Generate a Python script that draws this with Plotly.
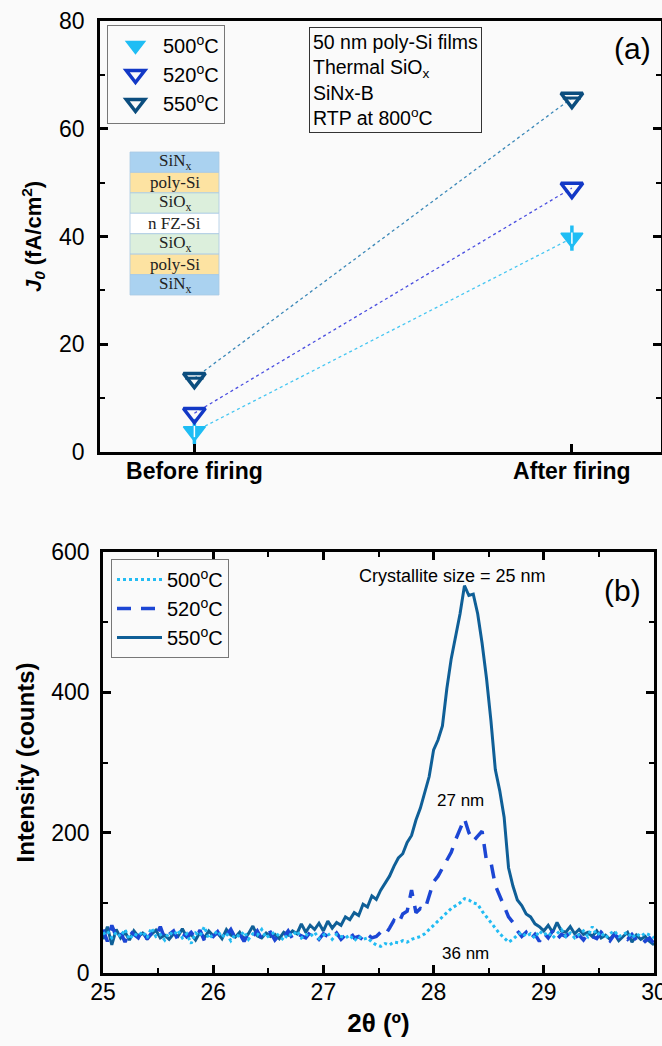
import numpy as np
import plotly.graph_objects as go

W, H = 662, 1046

# ---------------- Panel (a) data ----------------
stages = ["Before firing", "After firing"]
j0_500 = [3.8, 39.7]
j0_520 = [7.2, 49.0]
j0_550 = [13.7, 65.7]
temps = ["500<sup>o</sup>C", "520<sup>o</sup>C", "550<sup>o</sup>C"]

# ---------------- Panel (b) data ----------------
two_theta = np.round(25.0 + 0.04 * np.arange(126), 2)  # 25.00 ... 30.00 sampling grid

int_500 = [55, 60, 50, 58, 52, 62, 48, 56, 53, 59, 50, 64, 52, 55, 47, 58, 54, 61, 50, 56,
           42, 57, 53, 66, 49, 55, 60, 51, 57, 46, 55, 52, 59, 48, 56, 54, 62, 50, 55, 58,
           52, 47, 56, 53, 60, 50, 55, 52, 58, 49, 54, 57, 48, 55, 52, 50, 54, 46, 52, 48,
           50, 44, 40, 38, 42, 40, 44, 43, 46, 44, 48, 50, 52, 56, 62, 68, 74, 80, 86, 92,
           96, 100, 106, 104, 100, 98, 88, 80, 72, 64, 56, 50, 44, 48, 54, 58, 52, 56, 50, 60,
           54, 58, 50, 56, 62, 52, 57, 50, 55, 60, 52, 66, 54, 58, 50, 56, 60, 52, 55, 58,
           50, 56, 52, 57, 54, 50]

int_520 = [62, 45, 68, 52, 58, 44, 60, 55, 50, 62, 48, 57, 53, 66, 49, 55, 60, 47, 56, 52,
           58, 50, 61, 46, 55, 52, 59, 48, 54, 62, 50, 56, 45, 57, 52, 60, 49, 55, 58, 47,
           54, 51, 60, 49, 56, 53, 50, 58, 55, 48, 56, 52, 50, 57, 48, 54, 59, 50, 52, 47,
           55, 50, 52, 58, 54, 64, 75, 70, 84, 88, 118, 86, 92, 90, 112, 130, 138, 150, 162, 172,
           190, 205, 220, 200, 188, 195, 202, 160, 158, 125, 110, 96, 80, 72, 60, 52, 58, 48, 55, 45,
           57, 50, 60, 48, 55, 52, 58, 50, 54, 47, 56, 52, 49, 58, 52, 46, 55, 50, 53, 48,
           55, 47, 52, 45, 50, 42]

int_550 = [48, 66, 40, 62, 50, 58, 47, 60, 52, 57, 49, 55, 61, 50, 54, 48, 56, 52, 63, 51,
           55, 47, 58, 50, 60, 53, 57, 49, 62, 54, 51, 58, 48, 56, 67, 53, 50, 57, 52, 55,
           49, 58, 54, 60, 56, 70, 58, 68, 62, 71, 60, 74, 64, 72, 68, 80, 76, 86, 82, 98,
           94, 110, 105, 118, 128, 138, 152, 164, 170, 186, 196, 218, 235, 258, 280, 318, 332, 352, 405, 448,
           478, 512, 552, 538, 540, 512, 470, 420, 360, 290, 260, 222, 150, 124, 104, 96, 84, 80, 70, 66,
           60, 68, 58, 72, 60, 58, 66, 56, 62, 55, 58, 52, 60, 50, 54, 48, 56, 46, 52, 58,
           44, 54, 48, 52, 45, 40]

# ---------------- styling ----------------
C500, C520, C550 = "#1fbdf4", "#1238c6", "#0b4d7e"
L500, L520, L550 = "#45c6f2", "#4a4ee0", "#3b88b8"
B500, B520, B550 = "#22bcf3", "#1c46d4", "#0f5f97"
FONT = "Arial, Liberation Sans, sans-serif"
SERIF = "Times New Roman, Liberation Serif, serif"


def px(x):
    return x / W


def py(y):
    return 1 - y / H


fig = go.Figure()

# ---- panel (a): connecting lines ----
for vals, col in [(j0_500, L500), (j0_520, L520), (j0_550, L550)]:
    fig.add_trace(go.Scatter(x=stages, y=vals, mode="lines", xaxis="x", yaxis="y",
                             line=dict(color=col, width=1.3, dash="dot"),
                             showlegend=False, hoverinfo="skip"))

# 500: arrow-like filled down triangle
fig.add_trace(go.Scatter(x=stages, y=j0_500, mode="markers", xaxis="x", yaxis="y",
                         marker=dict(symbol="line-ns", size=18, color=C500,
                                     line=dict(color=C500, width=3.5)),
                         showlegend=False, hoverinfo="skip"))
fig.add_trace(go.Scatter(x=stages, y=j0_500, mode="markers", xaxis="x", yaxis="y",
                         name=temps[0], legend="legend", legendrank=1,
                         marker=dict(symbol="triangle-down", size=19, color=C500,
                                     line=dict(color=C500, width=1.5))))
fig.add_trace(go.Scatter(x=stages, y=j0_500, mode="markers", xaxis="x", yaxis="y",
                         marker=dict(symbol="line-ns", size=8, color="white",
                                     line=dict(color="white", width=1.5)),
                         showlegend=False, hoverinfo="skip"))
# 520: open down triangle
fig.add_trace(go.Scatter(x=stages, y=j0_520, mode="markers", xaxis="x", yaxis="y",
                         name=temps[1], legend="legend", legendrank=2,
                         marker=dict(symbol="triangle-down-open", size=19, color=C520,
                                     line=dict(color=C520, width=3.5))))
# 550: open down triangle with bar
fig.add_trace(go.Scatter(x=stages, y=j0_550, mode="markers", xaxis="x", yaxis="y",
                         name=temps[2], legend="legend", legendrank=3,
                         marker=dict(symbol="triangle-down-open", size=19, color=C550,
                                     line=dict(color=C550, width=3.5))))
fig.add_trace(go.Scatter(x=stages, y=j0_550, mode="markers", xaxis="x", yaxis="y",
                         marker=dict(symbol="line-ew", size=13, color=C550,
                                     line=dict(color=C550, width=3)),
                         showlegend=False, hoverinfo="skip"))

# ---- panel (b): XRD curves ----
fig.add_trace(go.Scatter(x=two_theta, y=int_550, mode="lines", xaxis="x2", yaxis="y2",
                         name=temps[2], legend="legend2", legendrank=3,
                         line=dict(color=B550, width=3)))
fig.add_trace(go.Scatter(x=two_theta, y=int_520, mode="lines", xaxis="x2", yaxis="y2",
                         name=temps[1], legend="legend2", legendrank=2,
                         line=dict(color=B520, width=3.5, dash="14px,10px")))
fig.add_trace(go.Scatter(x=two_theta, y=int_500, mode="lines", xaxis="x2", yaxis="y2",
                         name=temps[0], legend="legend2", legendrank=1,
                         line=dict(color=B500, width=3, dash="dot")))

axis_common = dict(showline=True, linecolor="black", linewidth=2.5, showgrid=False,
                   zeroline=False, ticks="inside", tickcolor="black", tickwidth=2.5,
                   ticklen=8, automargin=False, ticklabeloverflow="allow",
                   tickfont=dict(family=FONT, size=23, color="black"))

shapes = []
annotations = []

# ---- layer-stack inset in panel (a) ----
layers = ["SiN<sub>x</sub>", "poly-Si", "SiO<sub>x</sub>", "n FZ-Si",
          "SiO<sub>x</sub>", "poly-Si", "SiN<sub>x</sub>"]
layer_cols = ["#aad2f0", "#fde3a2", "#dcefdc", "#ffffff", "#dcefdc", "#fde3a2", "#aad2f0"]
top, bot, lx0, lx1 = 152, 295, 130, 219
hstep = (bot - top) / len(layers)
for i, (lab, col) in enumerate(zip(layers, layer_cols)):
    y0 = top + i * hstep
    shapes.append(dict(type="rect", xref="paper", yref="paper",
                       x0=px(lx0), x1=px(lx1), y0=py(y0), y1=py(y0 + hstep),
                       fillcolor=col, line=dict(color="#a9c9e3", width=0.8), layer="below"))
    annotations.append(dict(xref="paper", yref="paper", x=px((lx0 + lx1) / 2),
                            y=py(y0 + hstep / 2), text=lab, showarrow=False,
                            font=dict(family=SERIF, size=17, color="#222222"),
                            xanchor="center", yanchor="middle"))

annotations += [
    dict(xref="paper", yref="paper", x=px(309), y=py(27), xanchor="left", yanchor="top",
         align="left", showarrow=False,
         text="50 nm poly-Si films<br>Thermal SiO<sub>x</sub><br>SiNx-B<br>RTP at 800<sup>o</sup>C",
         font=dict(family=FONT, size=19.5, color="black"),
         bordercolor="#333333", borderwidth=1, borderpad=3, bgcolor="rgba(0,0,0,0)"),
    dict(xref="paper", yref="paper", x=px(632), y=py(48), text="(a)", showarrow=False,
         font=dict(family=FONT, size=30, color="black"), xanchor="center", yanchor="middle"),
    dict(xref="paper", yref="paper", x=px(622), y=py(590), text="(b)", showarrow=False,
         font=dict(family=FONT, size=30, color="black"), xanchor="center", yanchor="middle"),
    dict(xref="x2", yref="y2", x=28.17, y=566, text="Crystallite size = 25 nm", showarrow=False,
         font=dict(family=FONT, size=18, color="black"), xanchor="center", yanchor="middle"),
    dict(xref="x2", yref="y2", x=28.24, y=246, text="27 nm", showarrow=False,
         font=dict(family=FONT, size=17, color="black"), xanchor="center", yanchor="middle"),
    dict(xref="x2", yref="y2", x=28.29, y=28, text="36 nm", showarrow=False,
         font=dict(family=FONT, size=17, color="black"), xanchor="center", yanchor="middle"),
]

legend_common = dict(font=dict(family=FONT, size=20, color="black"), bgcolor="rgba(0,0,0,0)",
                     bordercolor="#777777", borderwidth=1, xanchor="left", yanchor="top",
                     traceorder="normal", itemwidth=45)

fig.update_layout(
    width=W, height=H,
    margin=dict(l=0, r=0, t=0, b=0, autoexpand=False),
    paper_bgcolor="#fafafa", plot_bgcolor="#fafafa",
    font=dict(family=FONT, color="black"),
    xaxis=dict(axis_common, domain=[px(100), px(661)], anchor="y", type="category",
               range=[-0.25, 1.236], mirror=True,
               tickfont=dict(family=FONT, size=23, color="black", weight="bold"),
               ticklabelstandoff=-3),
    yaxis=dict(axis_common, domain=[py(452), py(21)], anchor="x", range=[0, 80], dtick=20,
               mirror="ticks", ticklabelstandoff=8,
               minor=dict(ticks="inside", dtick=10, ticklen=5, tickwidth=2, tickcolor="black"),
               title=dict(text="<i>J<sub>0</sub></i> (fA/cm<sup>2</sup>)",
                          font=dict(family=FONT, size=22, color="black", weight="bold"),
                          standoff=12)),
    xaxis2=dict(axis_common, domain=[px(103), px(654)], anchor="y2", range=[25, 30], dtick=1,
                mirror="ticks", ticklabelstandoff=-3,
                minor=dict(ticks="inside", dtick=0.5, ticklen=5, tickwidth=2, tickcolor="black"),
                title=dict(text="2θ (º)", font=dict(family=FONT, size=26, color="black",
                                                     weight="bold"), standoff=10)),
    yaxis2=dict(axis_common, domain=[py(973), py(552)], anchor="x2", range=[0, 600], dtick=200,
                mirror="ticks", ticklabelstandoff=6,
                minor=dict(ticks="inside", dtick=100, ticklen=5, tickwidth=2, tickcolor="black"),
                title=dict(text="Intensity (counts)",
                           font=dict(family=FONT, size=24, color="black", weight="bold"),
                           standoff=10)),
    legend=dict(legend_common, x=px(107), y=py(25)),
    legend2=dict(legend_common, x=px(111), y=py(559)),
    shapes=shapes,
    annotations=annotations,
)

fig.write_html("out.html")
